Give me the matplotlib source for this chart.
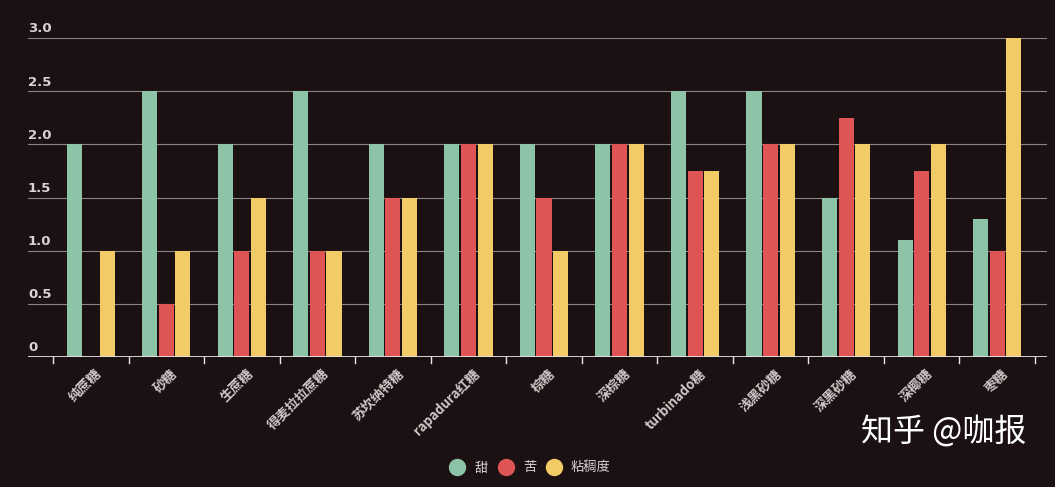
import numpy as np
import matplotlib.pyplot as plt
import matplotlib.transforms as mtransforms
from matplotlib.lines import Line2D

plt.rcParams['font.family'] = ['Noto Sans CJK SC', 'DejaVu Sans']

categories = ['纯蔗糖', '砂糖', '生蔗糖', '得麦拉拉蔗糖', '苏坎纳特糖', 'rapadura红糖', '棕糖',
              '深棕糖', 'turbinado糖', '浅黑砂糖', '深黑砂糖', '深椰糖', '枣糖']
sweet = [2, 2.5, 2, 2.5, 2, 2, 2, 2, 2.5, 2.5, 1.5, 1.1, 1.3]
bitter = [0, 0.5, 1, 1, 1.5, 2, 1.5, 2, 1.75, 2, 2.25, 1.75, 1]
sticky = [1, 1, 1.5, 1, 1.5, 2, 1, 2, 1.75, 2, 2, 2, 3]
series_names = ['甜', '苦', '粘稠度']
colors = ['#8dc3a7', '#df5455', '#f2cb66']
yticks = [0, 0.5, 1.0, 1.5, 2.0, 2.5, 3.0]
ytick_labels = ['0', '0.5', '1.0', '1.5', '2.0', '2.5', '3.0']

bg = '#1b1112'
fig = plt.figure(figsize=(10.55, 4.87), dpi=100, facecolor=bg)
W, H = 1055, 487
ax = fig.add_axes([28 / W, (H - 357) / H, (1047 - 28) / W, (357 - 38) / H])
ax.set_facecolor(bg)

x = np.arange(len(categories))
step = 0.22
width = 0.2
for k, (vals, c) in enumerate(zip([sweet, bitter, sticky], colors)):
    ax.bar(x + (k - 1) * step, vals, width, color=c, zorder=3)

cat_px = 75.5
ax.set_xlim(-0.5 - 25 / cat_px, len(categories) - 0.5 + 12 / cat_px)
ax.set_ylim(0, 3)

for s in ax.spines.values():
    s.set_visible(False)
ax.set_yticks([])
ax.set_xticks([])

# gridlines
for v in yticks[1:]:
    ax.axhline(v, color='#8a8484', lw=0.8, zorder=1)
ax.axhline(0, color='#e8e4e4', lw=2, zorder=4)

# category boundary ticks
for b in np.arange(-0.5, len(categories), 1.0):
    ax.plot([b, b], [0, -0.06], color='#e8e4e4', lw=1, clip_on=False, zorder=4)

# y labels above gridlines
trans = mtransforms.blended_transform_factory(ax.transAxes, ax.transData)
for v, lab in zip(yticks, ytick_labels):
    ax.text(0.0, v + 0.025, lab, transform=trans, ha='left', va='bottom',
            color='#d8d2d2', fontsize=9.5, fontweight='bold', family='DejaVu Sans')

# x labels
for i, lab in enumerate(categories):
    ax.text(i + 0.05, -0.09, lab, rotation=45, ha='right', va='top', rotation_mode='anchor',
            color='#cfc9c9', fontsize=9.5, fontweight='bold')

# legend
handles = [Line2D([], [], marker='o', ls='', markersize=11.5, markerfacecolor=c, markeredgecolor=c)
           for c in colors]
fig.legend(handles, series_names, loc='center', bbox_to_anchor=(0.5, (H - 468) / H), ncol=3,
           frameon=False, labelcolor='#d8d2d2', fontsize=9.5, handletextpad=0.3, columnspacing=0.35)

# watermark
fig.text(0.816, (H - 432) / H, '知乎 @咖报', color='white', fontsize=23, ha='left', va='center')

fig.savefig('out.png', dpi=100, facecolor=bg)
